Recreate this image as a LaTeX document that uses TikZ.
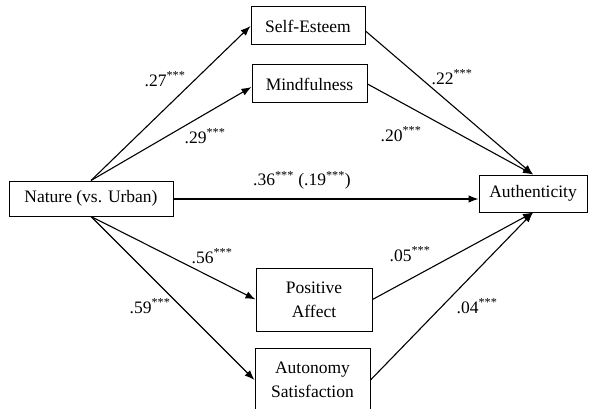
\documentclass[tikz,border=0pt]{standalone}
\usepackage{fontspec}
\setmainfont{Liberation Serif}
\usetikzlibrary{arrows.meta}
\begin{document}
\begin{tikzpicture}[x=1pt,y=-1pt,
  box/.style={draw,line width=1pt,inner sep=0pt,align=center,font=\fontsize{17.5}{24}\selectfont},
  lbl/.style={inner sep=0pt,font=\fontsize{17.5}{21}\selectfont},
  arr/.style={line width=1.1pt,-{Latex[length=10pt,width=7.5pt]}}]
\useasboundingbox (0,0) rectangle (591,409);
\node[box,minimum width=164pt,minimum height=35pt] (nat) at (91,198.5) {Nature (vs. Urban)};
\node[box,minimum width=114pt,minimum height=38pt] (se) at (308,26) {Self-Esteem};
\node[box,minimum width=115pt,minimum height=38pt] (mi) at (309.5,84) {Mindfulness};
\node[box,minimum width=108pt,minimum height=37pt] (au) at (533,193.5) {Authenticity};
\node[box,minimum width=116pt,minimum height=63pt] (pa) at (314,299.5) {Positive\\Affect};
\node[box,minimum width=115pt,minimum height=63pt] (as) at (312.5,380) {Autonomy\\Satisfaction};
\draw[arr] (nat.north) -- (se.west);
\draw[arr] (nat.north) -- ([yshift=-3pt]mi.west);
\draw[arr] (nat.south) -- (pa.west);
\draw[arr] (nat.south) -- (as.west);
\draw[arr] ([yshift=-5pt]se.east) -- (au.north);
\draw[arr] (mi.east) -- (au.north);
\draw[arr] (pa.east) -- (au.south);
\draw[arr] (as.east) -- (au.south);
\coordinate (ne) at ([yshift=-0.5pt]nat.east);
\draw[arr] (ne) -- (ne -| au.west);
\node[lbl] (l1) at (165,79) {.27\textsuperscript{***}};
\node[lbl] (l2) at (205,136) {.29\textsuperscript{***}};
\node[lbl] (l3) at (452,77) {.22\textsuperscript{***}};
\node[lbl] (l4) at (401,134) {.20\textsuperscript{***}};
\node[lbl] (l5) at (302,180) {.36\textsuperscript{***} (.19\textsuperscript{***})};
\node[lbl] (l6) at (212,256) {.56\textsuperscript{***}};
\node[lbl] (l7) at (150,306) {.59\textsuperscript{***}};
\node[lbl] (l8) at (410,254) {.05\textsuperscript{***}};
\node[lbl] (l9) at (477,306) {.04\textsuperscript{***}};
\end{tikzpicture}
\end{document}
